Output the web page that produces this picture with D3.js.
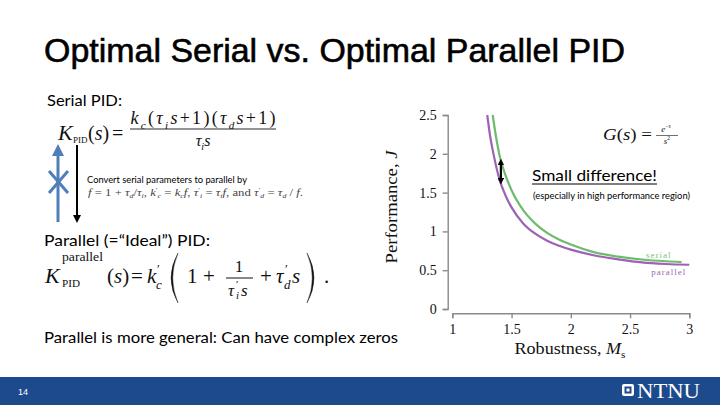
<!DOCTYPE html>
<html><head><meta charset="utf-8">
<script src="https://cdnjs.cloudflare.com/ajax/libs/d3/7.8.5/d3.min.js"></script>
<style>html,body{margin:0;padding:0;background:#fff;}svg{display:block;}</style>
</head><body>
<svg id="c" width="720" height="405"></svg>
<script>
// ---- data ----
const msParallel = [1.295,1.32,1.35,1.40,1.45,1.50,1.60,1.70,1.80,1.90,2.00,2.20,2.40,2.60,2.80,3.00];
const jParallel  = [2.50,2.22,1.98,1.66,1.46,1.31,1.10,0.97,0.88,0.815,0.765,0.69,0.64,0.60,0.58,0.57];
const msSerial   = [1.341,1.37,1.40,1.45,1.50,1.60,1.70,1.80,1.90,2.00,2.20,2.40,2.60,2.80,2.935];
const jSerial    = [2.50,2.21,1.97,1.72,1.53,1.27,1.10,0.98,0.895,0.83,0.73,0.675,0.638,0.615,0.605];
const xTicks = [1,1.5,2,2.5,3];
const yTicks = [0,0.5,1,1.5,2,2.5];
const seriesNames = ["serial","parallel"];
const arrowMs = [1.41];

const svg = d3.select("#c");
const SERIF = "'Liberation Serif', 'DejaVu Serif', serif";
const SANS = "Lato, 'Open Sans', sans-serif";
const green = "#6dbb6d", purple = "#9d62b3";

// title
svg.append("text").attr("x",44).attr("y",62).attr("font-family","'Liberation Sans', Arial, sans-serif")
  .attr("font-size",34).attr("fill","#000").attr("stroke","#000").attr("stroke-width",0.6)
  .attr("textLength",581).attr("lengthAdjust","spacingAndGlyphs")
  .text("Optimal Serial vs. Optimal Parallel PID");

// math helpers
function math(parent, x, y, size, parts, anchor){
  const t = parent.append("text").attr("x",x).attr("y",y).attr("font-family",SERIF)
    .attr("font-size",size).attr("fill","#111");
  if(anchor) t.attr("text-anchor",anchor);
  let cur = 0;
  parts.forEach(([str,kind])=>{
    let off=0, fs=size;
    if(kind.startsWith("sub")){off=size*0.25; fs=size*0.62;}
    if(kind.startsWith("sup")){off=-size*0.4; fs=size*0.62;}
    const ts = t.append("tspan").attr("dy",off-cur).attr("font-size",fs).text(str);
    if(kind.endsWith("i")) ts.attr("font-style","italic");
    cur = off;
  });
  return t;
}
function txt(x,y,size,s,italic){
  const t = svg.append("text").attr("x",x).attr("y",y).attr("font-family",SERIF).attr("font-size",size).attr("fill","#111").text(s);
  if(italic) t.attr("font-style","italic");
  return t;
}
function fit(t,len){ return t.attr("textLength",len).attr("lengthAdjust","spacingAndGlyphs"); }
function paren(x0, y0, y1, left){
  const m=(y0+y1)/2, d = left ? -14 : 14, d2 = left ? -10.5 : 10.5;
  svg.append("path").attr("d",`M${x0},${y0}Q${x0+d},${m} ${x0},${y1}Q${x0+d2},${m} ${x0},${y0}Z`)
    .attr("fill","#111").attr("stroke","#111").attr("stroke-width",0.4);
}

// ---- left text block ----
fit(svg.append("text").attr("x",47).attr("y",106).attr("font-family",SANS).attr("font-size",16),75).text("Serial PID:");

// serial formula
txt(58,140,22,"K",true);
txt(73,143,9,"PID");
math(svg,88,140,20,[["(","r"],["s","i"],[")","r"]]);
txt(112,140,20,"=");
math(svg,203,124,18,[["k","i"],["c","subi"],["(","r"],["τ","i"],["i","subi"],["s","i"],["+1)(","r"],["τ","i"],["d","subi"],["s","i"],["+1)","r"]],"middle")
  .attr("textLength",145).attr("lengthAdjust","spacing");
svg.append("line").attr("x1",130).attr("x2",276).attr("y1",129).attr("y2",129).attr("stroke","#111").attr("stroke-width",0.9);
math(svg,203,146,16,[["τ","i"],["i","subi"],["s","i"]],"middle");

// arrows
svg.append("defs").html(`
<marker id="ab" viewBox="0 0 10 10" refX="5" refY="5" markerWidth="4" markerHeight="4" orient="auto-start-reverse"><path d="M0,0L10,5L0,10z" fill="#4f7fb8"/></marker>
<marker id="ak" viewBox="0 0 10 10" refX="5" refY="5" markerWidth="4" markerHeight="4" orient="auto-start-reverse"><path d="M0,0L10,5L0,10z" fill="#000"/></marker>
<marker id="ad" viewBox="0 0 10 10" refX="5" refY="5" markerWidth="3" markerHeight="3" orient="auto-start-reverse"><path d="M0,0L10,5L0,10z" fill="#000"/></marker>`);
svg.append("line").attr("x1",58).attr("x2",58).attr("y1",222).attr("y2",150)
  .attr("stroke","#4f7fb8").attr("stroke-width",3).attr("marker-end","url(#ab)");
svg.append("line").attr("x1",49).attr("x2",68).attr("y1",171).attr("y2",193).attr("stroke","#4f7fb8").attr("stroke-width",3);
svg.append("line").attr("x1",68).attr("x2",49).attr("y1",171).attr("y2",193).attr("stroke","#4f7fb8").attr("stroke-width",3);
svg.append("line").attr("x1",77).attr("x2",77).attr("y1",145).attr("y2",219)
  .attr("stroke","#000").attr("stroke-width",2).attr("marker-end","url(#ak)");

fit(svg.append("text").attr("x",87).attr("y",183).attr("font-family",SANS).attr("font-size",9.5),160)
  .text("Convert serial parameters to parallel by");
fit(math(svg,88,196,9.5,[["f","i"],[" = 1 + ","r"],["τ","i"],["d","subi"],["/","r"],["τ","i"],["i","subi"],[", ","r"],["k","i"],["′","sup"],["c","subi"],[" = ","r"],["k","i"],["c","subi"],["f","i"],[", ","r"],["τ","i"],["′","sup"],["i","subi"],[" = ","r"],["τ","i"],["i","subi"],["f","i"],[", and ","r"],["τ","i"],["′","sup"],["d","subi"],[" = ","r"],["τ","i"],["d","subi"],[" / ","r"],["f","i"],[".","r"]]),215)
  .attr("fill","#444");

fit(svg.append("text").attr("x",44).attr("y",246).attr("font-family",SANS).attr("font-size",16),166)
  .text("Parallel (=“Ideal”) PID:");

// parallel formula
txt(45,283,22,"K",true);
fit(txt(62,261,12,"parallel"),41);
fit(txt(62,287,10,"PID"),18);
math(svg,107,283,21,[["(","r"],["s","i"],[")","r"]]);
txt(131,283,21,"=");
txt(147,283,21,"k",true);
txt(157,273,13,"′");
txt(156,289,13,"c",true);
paren(178,253,303,true);
txt(187,283,21,"1");
txt(203,283,21,"+");
txt(239,272,17,"1").attr("text-anchor","middle");
svg.append("line").attr("x1",226).attr("x2",253).attr("y1",278).attr("y2",278).attr("stroke","#111").attr("stroke-width",1);
txt(228,296,17,"τ",true);
txt(236,288,11,"′");
txt(236,299,11,"i",true);
txt(241,296,17,"s",true);
txt(260,283,21,"+");
txt(276,283,21,"τ",true);
txt(285,273,13,"′");
txt(284,289,13,"d",true);
txt(292,283,21,"s",true);
paren(307,253,303,false);
txt(324,283,21,".");

fit(svg.append("text").attr("x",44).attr("y",343).attr("font-family",SANS).attr("font-size",16),354)
  .text("Parallel is more general: Can have complex zeros");

// ---- chart ----
const x = d3.scaleLinear().domain([1,3]).range([452.3,689.3]);
const y = d3.scaleLinear().domain([0,2.5]).range([309,115]);
const fmt = d3.format("");

const gy = svg.append("g").attr("transform","translate(447.7,0)")
  .call(d3.axisLeft(y).tickValues(yTicks).tickFormat(fmt).tickSize(5).tickPadding(6));
const gx = svg.append("g").attr("transform","translate(0,313.3)")
  .call(d3.axisBottom(x).tickValues(xTicks).tickFormat(fmt).tickSize(5).tickPadding(6));
[gx,gy].forEach(g=>{
  g.selectAll("path,line").attr("stroke","#8a8a8a").attr("stroke-width",1.4);
  g.selectAll("text").attr("font-family",SERIF).attr("font-size",14).attr("fill","#111");
});

const line = d3.line().x(d=>x(d[0])).y(d=>y(d[1])).curve(d3.curveMonotoneX);
svg.append("path").datum(d3.zip(msParallel,jParallel)).attr("d",line)
  .attr("fill","none").attr("stroke",purple).attr("stroke-width",2.2);
svg.append("path").datum(d3.zip(msSerial,jSerial)).attr("d",line)
  .attr("fill","none").attr("stroke",green).attr("stroke-width",2.2);

// labels at curve ends
svg.append("text").attr("x",x(msSerial[msSerial.length-1])-10).attr("y",y(jSerial[jSerial.length-1])-4)
  .attr("text-anchor","end").attr("font-family",SERIF).attr("font-size",9).attr("letter-spacing",1)
  .attr("fill","#7cc07c").text(seriesNames[0]);
svg.append("text").attr("x",x(msParallel[msParallel.length-1])-3).attr("y",y(jParallel[jParallel.length-1])+10)
  .attr("text-anchor","end").attr("font-family",SERIF).attr("font-size",9).attr("letter-spacing",1)
  .attr("fill","#9a6aae").text(seriesNames[1]);

// axis titles
const yt = fit(svg.append("text").attr("transform","translate(397,207) rotate(-90)").attr("text-anchor","middle")
  .attr("font-family",SERIF).attr("font-size",17).attr("fill","#111"),113);
yt.append("tspan").text("Performance, ");
yt.append("tspan").attr("font-style","italic").text("J");
fit(math(svg,570,354,17,[["Robustness, ","r"],["M","i"],["s","sub"]],"middle"),111);

// G(s)
fit(math(svg,603,140,16,[["G","i"],["(","r"],["s","i"],[")  =","r"]]),49);
math(svg,666,132,9,[["e","i"],["−","sup"],["s","supi"]],"middle");
svg.append("line").attr("x1",656).attr("x2",678).attr("y1",135.5).attr("y2",135.5).attr("stroke","#111").attr("stroke-width",0.6);
math(svg,667,144,9,[["s","i"],["2","sup"]],"middle");

// difference arrow
const ax = x(arrowMs[0]);
const interp = (xs,ys,v)=>{ const i=d3.bisectRight(xs,v)-1; const t=(v-xs[i])/(xs[i+1]-xs[i]); return ys[i]+t*(ys[i+1]-ys[i]); };
svg.append("line").attr("x1",ax).attr("x2",ax)
  .attr("y1",y(interp(msSerial,jSerial,arrowMs[0]))+2).attr("y2",y(interp(msParallel,jParallel,arrowMs[0]))-2)
  .attr("stroke","#000").attr("stroke-width",2.2).attr("marker-start","url(#ad)").attr("marker-end","url(#ad)");

fit(svg.append("text").attr("x",532).attr("y",181).attr("font-family",SANS).attr("font-size",16),125).text("Small difference!");
svg.append("line").attr("x1",532).attr("x2",657).attr("y1",184).attr("y2",184).attr("stroke","#000").attr("stroke-width",1.2);
fit(svg.append("text").attr("x",533).attr("y",199).attr("font-family",SANS).attr("font-size",8.5),157)
  .text("(especially in high performance region)");

// ---- footer ----
svg.append("rect").attr("x",0).attr("y",377).attr("width",720).attr("height",28).attr("fill","#1c4a8c");
svg.append("text").attr("x",18).attr("y",395).attr("font-family","'Liberation Sans', Arial, sans-serif")
  .attr("font-size",9).attr("fill","#fff").text("14");
svg.append("rect").attr("x",622).attr("y",384).attr("width",12).attr("height",12).attr("rx",2).attr("fill","#fff");
svg.append("rect").attr("x",624.5).attr("y",386.5).attr("width",7).attr("height",7).attr("fill","#1c4a8c");
svg.append("rect").attr("x",626.5).attr("y",388.5).attr("width",3).attr("height",3).attr("fill","#fff");
fit(svg.append("text").attr("x",637).attr("y",398).attr("font-family",SERIF).attr("font-size",20)
  .attr("fill","#fff"),63).text("NTNU");
</script>
</body></html>
